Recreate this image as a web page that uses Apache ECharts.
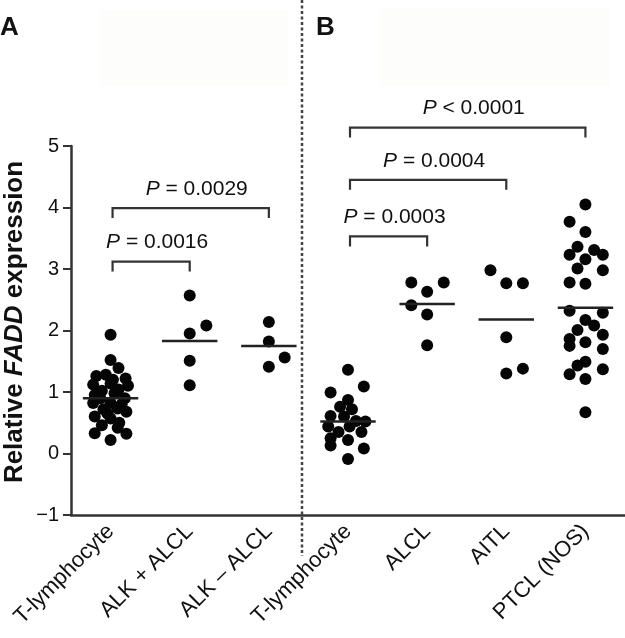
<!DOCTYPE html>
<html>
<head>
<meta charset="utf-8">
<script src="https://cdn.jsdelivr.net/npm/echarts@6/dist/echarts.min.js"></script>
<style>html,body{margin:0;padding:0;background:#fff}#c{width:625px;height:638px}</style>
</head>
<body>
<div id="c"></div>
<script>
// ---- data ----
const categories = ['T-lymphocyte', 'ALK + ALCL', 'ALK \u2013 ALCL', 'T-lymphocyte', 'ALCL', 'AITL', 'PTCL (NOS)'];
const yTicks = [-1, 0, 1, 2, 3, 4, 5];
// points per group: [jitter (category units), value]
const aTlymph = [[0,1.93],[0,1.52],[0.1,1.39],[-0.18,1.26],[-0.06,1.28],[0.19,1.22],[0.22,1.10],[-0.22,1.12],[0,1.14],[0.1,1.04],[-0.11,1.02],[-0.2,0.95],[0.05,0.98],[0.18,0.90],[-0.13,0.90],[-0.22,0.82],[0,0.82],[0.14,0.80],[-0.09,0.72],[0.09,0.73],[0.2,0.68],[-0.2,0.60],[0,0.57],[0.11,0.50],[-0.11,0.46],[0.09,0.42],[-0.2,0.33],[0.2,0.32],[0,0.22],[-0.04,0.65],[0.03,1.20]];
const aAlkPos = [[0,2.57],[0.21,2.08],[0,1.95],[0,1.51],[0,1.11]];
const aAlkNeg = [[0,2.14],[0,1.82],[0.2,1.56],[0,1.41]];
const bTlymph = [[0,1.36],[0.2,1.09],[-0.22,0.99],[0,0.87],[-0.1,0.76],[0.05,0.72],[-0.22,0.61],[-0.05,0.60],[0.1,0.53],[0.22,0.52],[-0.25,0.44],[0.02,0.44],[-0.12,0.35],[0.17,0.35],[-0.22,0.25],[0,0.22],[0.2,0.08],[-0.22,0.13],[0,-0.09]];
const bAlcl = [[-0.2,2.78],[0.21,2.78],[0,2.63],[-0.2,2.41],[0,2.26],[0,1.76]];
const bAitl = [[-0.2,2.98],[0,2.77],[0.21,2.77],[0,1.89],[0,1.30],[0.21,1.38]];
const bPtcl = [[0,4.05],[-0.2,3.77],[0,3.60],[-0.1,3.36],[0.11,3.31],[-0.2,3.23],[0.22,3.23],[0,3.16],[-0.1,3.01],[0.22,2.98],[-0.2,2.78],[0,2.76],[-0.2,2.32],[0.22,2.29],[0,2.17],[0.11,2.08],[-0.1,2.01],[-0.2,1.86],[0.22,1.93],[0,1.81],[-0.2,1.75],[0.22,1.70],[0,1.49],[-0.1,1.43],[0.22,1.37],[-0.2,1.29],[0,1.21],[0,0.67]];
const groups = [aTlymph, aAlkPos, aAlkNeg, bTlymph, bAlcl, bAitl, bPtcl];
const medians = [0.90, 1.83, 1.75, 0.52, 2.43, 2.18, 2.37];
// significance brackets
const bracketFrom = [0, 0, 3, 3, 3];
const bracketTo = [1, 2, 4, 5, 6];
const bracketLevel = [3.12, 3.99, 3.53, 4.45, 5.30];
const pLabels = ['= 0.0016', '= 0.0029', '= 0.0003', '= 0.0004', '< 0.0001'];

// ---- build ----
const FONT = '"Liberation Sans", Arial, Helvetica, sans-serif';
const pts = [];
groups.forEach((g, gi) => g.forEach(p => pts.push([gi + p[0], p[1]])));
const medData = medians.map((m, i) => [i, m]);
const brData = bracketFrom.map((f, i) => [f, bracketTo[i], bracketLevel[i], i]);

const chart = echarts.init(document.getElementById('c'), null, {renderer: 'canvas'});
chart.setOption({
  animation: false,
  backgroundColor: '#fff',
  grid: {left: 71, right: 0, top: 146, bottom: 123, containLabel: false, outerBoundsMode: 'none'},
  xAxis: [{
    type: 'category',
    data: categories.map((c, i) => c + '#' + i),
    boundaryGap: true,
    axisLine: {onZero: false, lineStyle: {color: '#333', width: 2.5}},
    axisTick: {alignWithLabel: true, length: 10, lineStyle: {color: '#333', width: 2}},
    axisLabel: {interval: 0, rotate: 45, margin: 13, fontSize: 22, color: '#111', fontFamily: FONT,
      formatter: (v, i) => categories[i]},
    splitLine: {show: false}
  }, {
    type: 'value', min: -0.5, max: 6.5, show: false
  }],
  yAxis: {
    type: 'value', min: yTicks[0], max: yTicks[yTicks.length - 1], interval: 1,
    axisLine: {show: true, onZero: false, lineStyle: {color: '#333', width: 2.5}},
    axisTick: {show: true, length: 8, lineStyle: {color: '#333', width: 2}},
    axisLabel: {fontSize: 20, color: '#111', margin: 12, fontFamily: FONT,
      formatter: v => String(v).replace('-', '\u2212')},
    splitLine: {show: false}
  },
  series: [{
    type: 'scatter', xAxisIndex: 1, data: pts, symbol: 'circle', symbolSize: 12,
    itemStyle: {color: '#050505', opacity: 1}, z: 3
  }, {
    type: 'custom', xAxisIndex: 1, data: medData, z: 5, clip: false,
    renderItem: (params, api) => {
      const x = api.value(0), y = api.value(1);
      const a = api.coord([x - 0.35, y]), b = api.coord([x + 0.35, y]);
      return {type: 'line', shape: {x1: a[0], y1: a[1], x2: b[0], y2: b[1]},
        style: {stroke: '#222', lineWidth: 2.5}};
    }
  }, {
    type: 'custom', xAxisIndex: 1, data: brData, z: 4, clip: false,
    renderItem: (params, api) => {
      const f = api.value(0), t = api.value(1), lv = api.value(2), idx = api.value(3);
      const p1 = api.coord([f, lv]), p2 = api.coord([t, lv]);
      const leg = 10;
      return {type: 'group', children: [{
        type: 'polyline',
        shape: {points: [[p1[0] + 2, p1[1] + leg], [p1[0] + 2, p1[1]], [p2[0], p2[1]], [p2[0], p2[1] + leg]]},
        style: {stroke: '#333', lineWidth: 2.2, fill: null}
      }, {
        type: 'text',
        style: {x: (p1[0] + p2[0]) / 2 + 7, y: p1[1] - 19, text: '{i|P} ' + pLabels[idx],
          align: 'center', verticalAlign: 'middle', fontSize: 21, fontFamily: FONT, fill: '#111',
          rich: {i: {fontStyle: 'italic', fontSize: 21, fontFamily: FONT, fill: '#111'}}}
      }]};
    }
  }],
  graphic: [
    {type: 'rect', shape: {x: 100, y: 10, width: 188, height: 76}, style: {fill: '#fdfdfc'}, z: -1},
    {type: 'rect', shape: {x: 380, y: 8, width: 230, height: 78}, style: {fill: '#fdfdfc'}, z: -1},
    {type: 'line', shape: {x1: 302, y1: 0, x2: 302, y2: 556},
      style: {stroke: '#444', lineWidth: 2.5, lineDash: [3, 2.5]}},
    {type: 'text', style: {x: 0, y: 28, text: 'A', fontSize: 26, fontWeight: 'bold', fontFamily: FONT, fill: '#111', verticalAlign: 'middle'}},
    {type: 'text', style: {x: 316, y: 28, text: 'B', fontSize: 26, fontWeight: 'bold', fontFamily: FONT, fill: '#111', verticalAlign: 'middle'}},
    {type: 'text', x: 15, y: 322, rotation: Math.PI / 2,
      style: {text: 'Relative {i|FADD} expression', align: 'center', verticalAlign: 'middle',
        fontSize: 26, fontWeight: 'bold', fontFamily: FONT, fill: '#111',
        rich: {i: {fontStyle: 'italic', fontWeight: 'bold', fontSize: 26, fontFamily: FONT, fill: '#111'}}}}
  ]
});
</script>
</body>
</html>
